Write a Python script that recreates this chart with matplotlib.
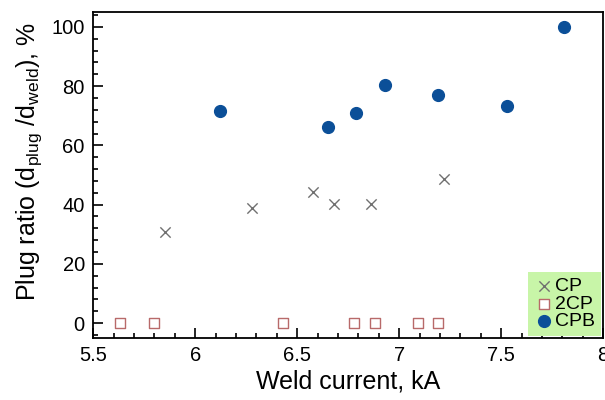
import matplotlib.pyplot as plt
from matplotlib.ticker import MultipleLocator

plt.rcParams['font.family'] = ['Liberation Sans', 'DejaVu Sans']

# CP (crosses)
cp_x = [5.85, 6.28, 6.58, 6.68, 6.86, 7.22]
cp_y = [30.9, 38.9, 44.4, 40.3, 40.3, 48.8]

# 2CP (open squares)
cp2_x = [5.63, 5.80, 6.43, 6.78, 6.88, 7.09, 7.19]
cp2_y = [0, 0, 0, 0, 0, 0, 0]

# CPB (filled circles)
cpb_x = [6.12, 6.65, 6.79, 6.93, 7.19, 7.53, 7.81]
cpb_y = [71.6, 66.1, 70.8, 80.5, 77.1, 73.2, 100]

fig = plt.figure(figsize=(6.05, 4.0), dpi=100)
ax = fig.add_axes([0.154, 0.155, 0.843, 0.815])

ax.scatter(cp_x, cp_y, marker='x', s=55, color='#707070', linewidths=1.0, label='CP', zorder=3)
ax.scatter(cp2_x, cp2_y, marker='s', s=60, facecolors='white', edgecolors='#b86a6a',
           linewidths=1.0, label='2CP', zorder=3)
ax.scatter(cpb_x, cpb_y, marker='o', s=72, color='#0b4f98', label='CPB', zorder=3)

ax.set_xlim(5.5, 8)
ax.set_ylim(-5, 105)
ax.set_xticks([5.5, 6, 6.5, 7, 7.5, 8])
ax.set_xticklabels(['5.5', '6', '6.5', '7', '7.5', '8'])
ax.set_yticks([0, 20, 40, 60, 80, 100])
ax.xaxis.set_minor_locator(MultipleLocator(0.1))
ax.yaxis.set_minor_locator(MultipleLocator(4))
ax.tick_params(which='both', direction='in', labelsize=14.5, width=1.2)
ax.tick_params(which='major', length=7, pad=6)
ax.tick_params(which='minor', length=3.5)
for s in ax.spines.values():
    s.set_linewidth(1.3)

ax.set_xlabel('Weld current, kA', fontsize=18, labelpad=3)
ax.set_ylabel(r'Plug ratio (d$_{\mathregular{plug}}$ /d$_{\mathregular{weld}}$), %', fontsize=18)
ax.yaxis.set_label_coords(-0.097, 0.54)

leg = ax.legend(loc='lower right', fontsize=14, frameon=True, fancybox=False,
                facecolor='#c8f5a8', edgecolor='none', framealpha=1.0,
                handletextpad=0.1, handlelength=1.0, borderpad=0.3, labelspacing=0.0,
                borderaxespad=0.1)

fig.savefig('out.png', dpi=100)
